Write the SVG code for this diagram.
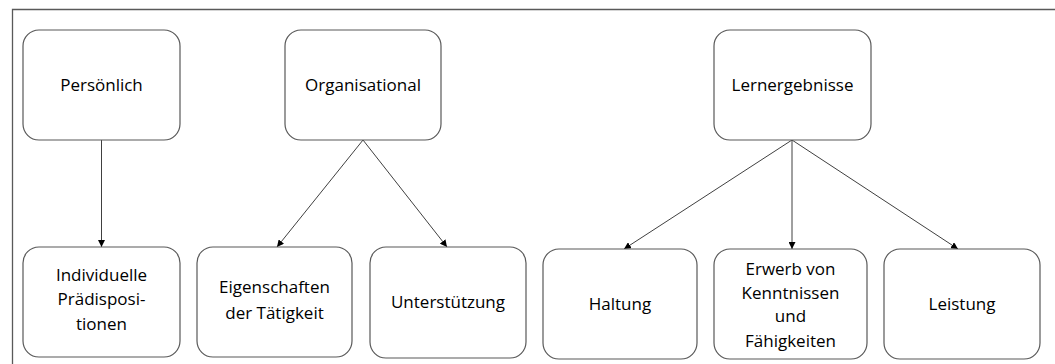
<svg xmlns="http://www.w3.org/2000/svg" width="1055" height="364" viewBox="0 0 1055 364">
  <style>
    .box { fill: #ffffff; stroke: #595959; stroke-width: 1.2; }
    .lbl { font-family: "Open Sans", Lato, sans-serif; font-size: 17px; fill: #000000; text-anchor: middle; }
    .edge { stroke: #404040; stroke-width: 1; fill: none; marker-end: url(#arrow); }
  </style>
  <defs>
    <marker id="arrow" viewBox="0 0 10 10" refX="10" refY="5" markerWidth="7" markerHeight="7" markerUnits="userSpaceOnUse" orient="auto">
      <path d="M0,0 L10,5 L0,10 z" fill="#000000"/>
    </marker>
  </defs>

  <rect width="1055" height="364" fill="#ffffff"/>
  <!-- outer frame (top and left edges visible) -->
  <path d="M12.5,370 L12.5,9.5 L1060,9.5" fill="none" stroke="#595959" stroke-width="1.3"/>

  <g id="connectors">
    <line class="edge" x1="101.5" y1="140" x2="101.5" y2="247"/>
    <line class="edge" x1="363" y1="140" x2="277" y2="247"/>
    <line class="edge" x1="363" y1="140" x2="447" y2="247"/>
    <line class="edge" x1="792" y1="140" x2="624" y2="249"/>
    <line class="edge" x1="792" y1="140" x2="792" y2="249"/>
    <line class="edge" x1="792" y1="140" x2="958" y2="249"/>
  </g>

  <g id="persoenlich">
    <rect class="box" x="23" y="30" width="157" height="110" rx="16"/>
    <text class="lbl" x="101.5" y="91">Persönlich</text>
  </g>
  <g id="organisational">
    <rect class="box" x="285" y="30" width="156" height="110" rx="16"/>
    <text class="lbl" x="363" y="91">Organisational</text>
  </g>
  <g id="lernergebnisse">
    <rect class="box" x="714" y="30" width="157" height="110" rx="16"/>
    <text class="lbl" x="792.5" y="91">Lernergebnisse</text>
  </g>

  <g id="praedispositionen">
    <rect class="box" x="23" y="247" width="157" height="110" rx="16"/>
    <text class="lbl" x="101.5" y="281">Individuelle</text>
    <text class="lbl" x="101.5" y="305">Prädisposi-</text>
    <text class="lbl" x="101.5" y="330">tionen</text>
  </g>
  <g id="eigenschaften">
    <rect class="box" x="197" y="247" width="155" height="110" rx="16"/>
    <text class="lbl" x="274.5" y="293">Eigenschaften</text>
    <text class="lbl" x="274.5" y="319">der Tätigkeit</text>
  </g>
  <g id="unterstuetzung">
    <rect class="box" x="370" y="247" width="156" height="111" rx="16"/>
    <text class="lbl" x="448" y="308">Unterstützung</text>
  </g>
  <g id="haltung">
    <rect class="box" x="543" y="249" width="154" height="110" rx="16"/>
    <text class="lbl" x="620" y="310">Haltung</text>
  </g>
  <g id="erwerb">
    <rect class="box" x="714" y="249" width="153" height="110" rx="16"/>
    <text class="lbl" x="790.5" y="275">Erwerb von</text>
    <text class="lbl" x="790.5" y="299">Kenntnissen</text>
    <text class="lbl" x="790.5" y="322">und</text>
    <text class="lbl" x="790.5" y="347">Fähigkeiten</text>
  </g>
  <g id="leistung">
    <rect class="box" x="884" y="249" width="156" height="110" rx="16"/>
    <text class="lbl" x="962" y="310">Leistung</text>
  </g>
</svg>
